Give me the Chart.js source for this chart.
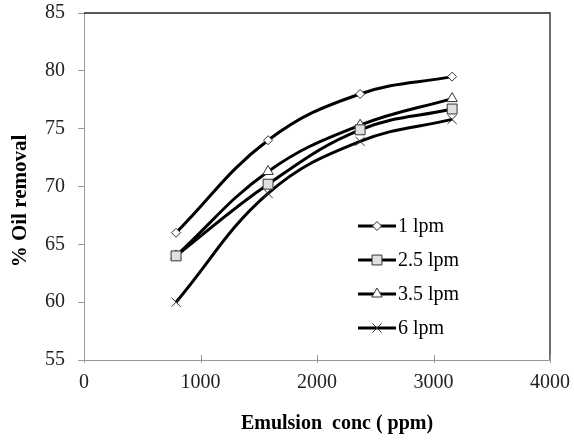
<!DOCTYPE html>
<html>
<head>
<meta charset="utf-8">
<script src="https://cdn.jsdelivr.net/npm/chart.js@4/dist/chart.umd.min.js"></script>
<style>
  html, body { margin: 0; padding: 0; background: #fff; }
</style>
</head>
<body>
<canvas id="chart" width="574" height="442"></canvas>
<script>
// Emulsion concentration (ppm) and % oil removal for each air flow rate
const conc = [790, 1580, 2370, 3160];
const flow1 = [66, 74, 78, 79.5];
const flow25 = [64, 70.2, 74.9, 76.7];
const flow35 = [64, 71.3, 75.3, 77.6];
const flow6 = [60, 69.4, 73.9, 75.8];
const seriesNames = ["1 lpm", "2.5 lpm", "3.5 lpm", "6 lpm"];
const xTitle = "Emulsion  conc ( ppm)";
const yTitle = "% Oil removal";

const serif = "'Liberation Serif', 'Times New Roman', serif";

function series(label, values, style, radius, fill) {
  return {
    label: label,
    data: conc.map((x, i) => ({ x: x, y: values[i] })),
    borderColor: "#000",
    borderWidth: 3,
    tension: 0.4,
    pointStyle: style,
    pointRadius: radius,
    pointBorderWidth: 1,
    pointBorderColor: "#333",
    pointBackgroundColor: fill
  };
}

// box border on top and right, inward ticks on x axis, axis titles
const framePlugin = {
  id: "frame",
  afterDraw(chart) {
    const { ctx, chartArea: a } = chart;
    ctx.save();
    ctx.strokeStyle = "#222";
    ctx.lineWidth = 1.3;
    ctx.beginPath();
    ctx.moveTo(a.left, a.top);
    ctx.lineTo(a.right, a.top);
    ctx.lineTo(a.right, a.bottom);
    ctx.stroke();
    const xs = chart.scales.x;
    ctx.strokeStyle = "#999";
    ctx.lineWidth = 1;
    xs.ticks.forEach(t => {
      const px = Math.round(xs.getPixelForValue(t.value)) + 0.5;
      ctx.beginPath();
      ctx.moveTo(px, a.bottom - 5);
      ctx.lineTo(px, a.bottom + 3);
      ctx.stroke();
    });

    ctx.fillStyle = "#000";
    ctx.textAlign = "center";
    ctx.textBaseline = "middle";
    ctx.font = "bold 20px " + serif;
    ctx.fillText(xTitle, a.left + (a.right - a.left) / 2 + 20, 424);
    ctx.translate(21, 201);
    ctx.rotate(-Math.PI / 2);
    ctx.font = "bold 21px " + serif;
    ctx.fillText(yTitle, 0, 0);
    ctx.restore();
  }
};

// legend drawn inside the plot, line with marker
const legendPlugin = {
  id: "insideLegend",
  afterDraw(chart) {
    const ctx = chart.ctx;
    chart.data.datasets.forEach((ds, i) => {
      const y = 226 + i * 34;
      ctx.save();
      ctx.strokeStyle = "#000";
      ctx.lineWidth = 3;
      ctx.beginPath();
      ctx.moveTo(358, y);
      ctx.lineTo(396, y);
      ctx.stroke();
      ctx.fillStyle = ds.pointBackgroundColor;
      ctx.strokeStyle = ds.pointBorderColor;
      ctx.lineWidth = 1;
      Chart.helpers.drawPoint(ctx, {
        pointStyle: ds.pointStyle,
        radius: ds.pointRadius,
        borderWidth: 1,
        rotation: 0
      }, 377, y);
      ctx.fillStyle = "#000";
      ctx.font = "20px " + serif;
      ctx.textBaseline = "middle";
      ctx.fillText(seriesNames[i], 398, y + 1);
      ctx.restore();
    });
  }
};

new Chart(document.getElementById("chart").getContext("2d"), {
  type: "line",
  data: {
    datasets: [
      series(seriesNames[0], flow1, "rectRot", 4.5, "#fff"),
      series(seriesNames[1], flow25, "rect", 7, "#e0e0e0"),
      series(seriesNames[2], flow35, "triangle", 6, "#fff"),
      series(seriesNames[3], flow6, "crossRot", 6.5, "#fff")
    ]
  },
  options: {
    responsive: false,
    animation: false,
    layout: { padding: { top: 13, right: 24, left: 0, bottom: 0 } },
    plugins: {
      legend: { display: false },
      tooltip: { enabled: false }
    },
    scales: {
      x: {
        type: "linear",
        min: 0,
        max: 4000,
        afterFit(s) {
          s.height = 82;
          s.paddingLeft = 0;
          s.paddingRight = 0;
        },
        ticks: {
          stepSize: 1000,
          padding: 3,
          color: "#222",
          font: { family: serif, size: 20 },
          callback: v => String(v)
        },
        grid: { display: false },
        border: { display: true, color: "#999", width: 1 }
      },
      y: {
        min: 55,
        max: 85,
        afterFit(s) {
          s.width = 84;
          s.paddingTop = 0;
          s.paddingBottom = 0;
        },
        ticks: {
          stepSize: 5,
          padding: 13,
          color: "#222",
          font: { family: serif, size: 20 }
        },
        grid: {
          drawOnChartArea: false,
          drawTicks: true,
          tickLength: 6,
          color: "#999"
        },
        border: { display: true, color: "#999", width: 1 }
      }
    }
  },
  plugins: [framePlugin, legendPlugin]
});
</script>
</body>
</html>
